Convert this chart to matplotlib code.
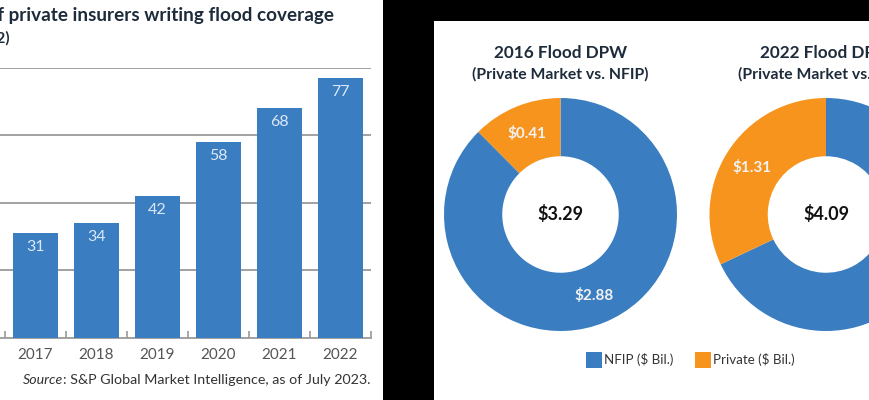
import matplotlib.pyplot as plt
from matplotlib.patches import Rectangle
import numpy as np

plt.rcParams['font.family'] = ['Lato', 'DejaVu Sans']

# dados do grafico de barras
anos = ["2017", "2018", "2019", "2020", "2021", "2022"]
seguradoras = [31, 34, 42, 58, 68, 77]

# dados dos donuts
titulos_donut = ["2016 Flood DPW", "2022 Flood DPW"]
nfip = [2.88, 2.78]
privado = [0.41, 1.31]
totais = [3.29, 4.09]

AZUL = "#3a7dc0"
LARANJA = "#f7941d"
ESCURO = "#1d2b3a"
CINZA = "#555555"

W, H = 870, 400
fig = plt.figure(figsize=(8.7, 4), dpi=100, facecolor="black")

def fx(px):
    return px / W

def fy(py):
    return 1 - py / H

# paineis brancos (atras de tudo)
fig.patches.append(Rectangle((0, 0), fx(383), 1, transform=fig.transFigure,
                             facecolor="white", edgecolor="none", zorder=-5))
fig.patches.append(Rectangle((fx(434), 0), 1 - fx(434), fy(21), transform=fig.transFigure,
                             facecolor="white", edgecolor="none", zorder=-5))

# --- grafico de barras ---
ax = fig.add_axes([0, fy(338), fx(371), (338 - 67.5) / H])
ax.set_facecolor("none")
x = np.arange(len(anos))
ax.bar(x, seguradoras, width=0.74, color=AZUL, zorder=3)
for xi, v in zip(x, seguradoras):
    ax.text(xi, v - 4.2, str(v), ha="center", va="center", color="#dce8f5",
            fontsize=11.5, zorder=4)
ax.set_xlim(-0.58, 5.5)
ax.set_ylim(0, 80)
ax.set_yticks([20, 40, 60, 80])
ax.yaxis.grid(True, color="#9a9a9a", linewidth=1.3, zorder=1)
ax.tick_params(axis="y", left=False, labelleft=False)
ax.set_xticks(x)
ax.set_xticklabels(anos, fontsize=11, color=CINZA)
ax.tick_params(axis="x", length=0, pad=7)
ax.set_xticks(np.arange(-0.5, 6, 1), minor=True)
ax.tick_params(axis="x", which="minor", direction="in", length=5, color="#9a9a9a", width=1.2)
for s in ["top", "right", "left"]:
    ax.spines[s].set_visible(False)
ax.spines["bottom"].set_color("#9a9a9a")
ax.spines["bottom"].set_linewidth(1.3)

fig.text(fx(334), fy(15), "Number of private insurers writing flood coverage",
         ha="right", va="center", fontsize=13.6, fontweight="bold", color=ESCURO)
fig.text(fx(10), fy(38), "(2016-2022)", ha="right", va="center", fontsize=11,
         fontweight="bold", color=ESCURO)
fonte = fig.text(fx(371), fy(380), ": S&P Global Market Intelligence, as of July 2023.",
                 ha="right", va="center", fontsize=10.3, color="#333333")
fig.canvas.draw()
bb = fonte.get_window_extent()
fig.text(bb.x0 / W, fy(380), "Source", ha="right", va="center", fontsize=10.3,
         style="italic", color="#333333")

# --- donuts ---
centros = [560.5, 826]
raio = 116.5
for cx, tit, n, p, tot in zip(centros, titulos_donut, nfip, privado, totais):
    axd = fig.add_axes([fx(cx - raio), fy(214.5 + raio), fx(2 * raio), 2 * raio / H])
    axd.pie([n, p], colors=[AZUL, LARANJA], startangle=90, counterclock=False,
            radius=1, wedgeprops=dict(width=0.5, edgecolor="none"),
            autopct=lambda pc, t=tot: f"${pc * t / 100:.2f}", pctdistance=0.75,
            textprops=dict(color="#f2f2f2", fontsize=11, fontweight="bold"))
    axd.text(0, 0, f"${tot:.2f}", ha="center", va="center", fontsize=13,
             fontweight="bold", color="#111111")
    axd.set_xlim(-1, 1)
    axd.set_ylim(-1, 1)
    axd.set_aspect("equal")
    axd.axis("off")
    fig.text(fx(cx), fy(53), tit, ha="center", va="center", fontsize=12.3,
             fontweight="bold", color=ESCURO)
    fig.text(fx(cx), fy(74), "(Private Market vs. NFIP)", ha="center", va="center",
             fontsize=11.3, fontweight="bold", color=ESCURO)

# legenda
fig.patches.append(Rectangle((fx(586), fy(368)), fx(16), 16 / H, transform=fig.transFigure,
                             facecolor=AZUL, edgecolor="none", zorder=2))
fig.text(fx(604), fy(360), "NFIP ($ Bil.)", ha="left", va="center", fontsize=9.6, color="#333333")
fig.patches.append(Rectangle((fx(695), fy(368)), fx(16), 16 / H, transform=fig.transFigure,
                             facecolor=LARANJA, edgecolor="none", zorder=2))
fig.text(fx(713), fy(360), "Private ($ Bil.)", ha="left", va="center", fontsize=9.6, color="#333333")

fig.savefig("out.png", dpi=100, facecolor=fig.get_facecolor())
